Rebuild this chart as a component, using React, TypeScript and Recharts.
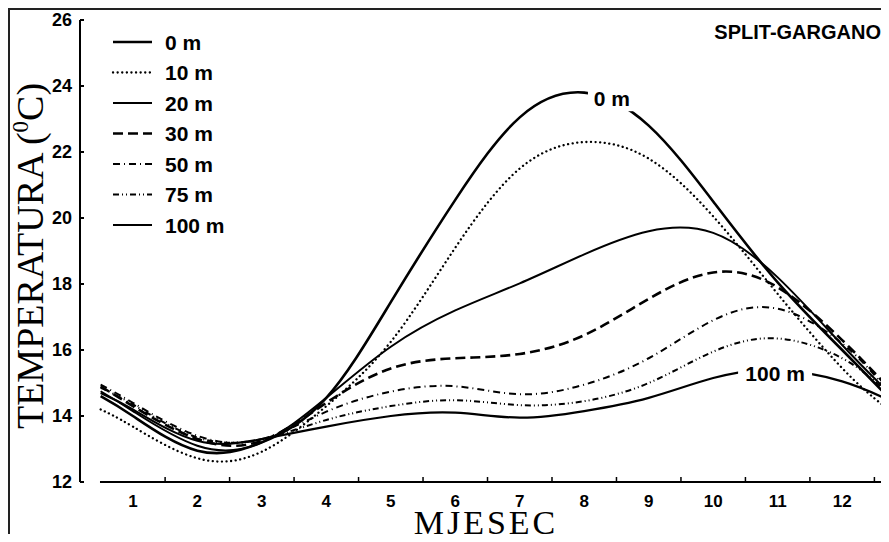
import { LineChart, Line, XAxis, YAxis, Legend, ReferenceLine, ReferenceDot } from "recharts";

// months along the x axis (first/last points are the curve ends)
const months = [0.5, 1, 2, 3, 4, 5, 6, 7, 8, 9, 10, 11, 12, 12.65];

// temperature (°C) per depth
const t0 = [14.6, 14.0, 12.95, 13.2, 14.55, 17.45, 20.55, 23.05, 23.8, 22.8, 20.5, 18.05, 16.0, 14.7];
const t10 = [14.2, 13.68, 12.72, 12.92, 14.3, 16.25, 19.1, 21.5, 22.3, 21.8, 20.05, 17.7, 15.45, 14.3];
const t20 = [14.75, 14.15, 13.1, 13.2, 14.55, 16.1, 17.2, 18.02, 18.9, 19.6, 19.55, 18.2, 16.15, 14.85];
const t30 = [14.9, 14.3, 13.3, 13.25, 14.4, 15.44, 15.75, 15.88, 16.45, 17.55, 18.35, 17.9, 16.3, 15.0];
const t50 = [14.95, 14.4, 13.4, 13.3, 14.13, 14.74, 14.9, 14.66, 14.95, 15.75, 16.9, 17.25, 16.2, 14.9];
const t75 = [14.85, 14.35, 13.35, 13.3, 13.88, 14.3, 14.48, 14.33, 14.45, 15.0, 15.95, 16.35, 15.75, 14.8];
const t100 = [14.7, 14.2, 13.25, 13.3, 13.68, 14.0, 14.1, 13.95, 14.15, 14.55, 15.15, 15.4, 15.05, 14.55];

const depths = ["0 m", "10 m", "20 m", "30 m", "50 m", "75 m", "100 m"];
const seriesKeys = ["d0", "d10", "d20", "d30", "d50", "d75", "d100"];
const temps = [t0, t10, t20, t30, t50, t75, t100];

const monthTicks = [1, 1.5, 2, 2.5, 3, 3.5, 4, 4.5, 5, 5.5, 6, 6.5, 7, 7.5, 8, 8.5, 9, 9.5, 10, 10.5, 11, 11.5, 12, 12.5];
const tempTicks = [12, 14, 16, 18, 20, 22, 24, 26];

// where the "0 m" and "100 m" labels sit on their curves
const label0 = { month: 8.43, temp: 23.63 };
const label100 = { month: 10.96, temp: 15.3 };

const SANS = '"Liberation Sans", Arial, sans-serif';
const SERIF = '"Liberation Serif", "Times New Roman", serif';

// no scrollbars eating into the right edge
document.documentElement.style.overflow = "hidden";
document.body.style.overflow = "hidden";

const lineStyles: { width: number; dash?: string; cap?: "round" | "butt" }[] = [
  { width: 2.6 },
  { width: 2.3, dash: "0.1 4.5", cap: "round" },
  { width: 2 },
  { width: 2.6, dash: "10 5" },
  { width: 2, dash: "7 4 1 4" },
  { width: 2, dash: "6 3 1 3 1 3" },
  { width: 2.2 },
];

const data = months.map((m, i) => {
  const row: Record<string, number> = { month: m };
  seriesKeys.forEach((k, s) => {
    row[k] = temps[s][i];
  });
  return row;
});

const MonthTick = (props: any) => {
  const { x, y, payload } = props;
  const v = payload.value;
  if (Number.isInteger(v)) {
    return (
      <text x={x} y={y + 25} textAnchor="middle" fill="#000" fontSize={17} fontWeight={700} fontFamily={SANS}>
        {v}
      </text>
    );
  }
  return <line x1={x} x2={x} y1={y} y2={y - 5} stroke="#000" strokeWidth={1.5} />;
};

const TempTick = (props: any) => {
  const { x, y, payload } = props;
  return (
    <g>
      <line x1={x + 8} x2={x + 12} y1={y} y2={y} stroke="#000" strokeWidth={2} />
      <text x={x} y={y} dy="0.355em" textAnchor="end" fill="#000" fontSize={18} fontWeight={700} fontFamily={SANS}>
        {payload.value}
      </text>
    </g>
  );
};

const inlineLabel = (text: string, w: number) => (props: any) => (
  <g>
    <rect x={props.cx - w / 2} y={props.cy - 13} width={w} height={26} fill="#fff" />
    <text x={props.cx} y={props.cy + 7.5} textAnchor="middle" fill="#000" fontSize={21} fontWeight={700} fontFamily={SANS}>
      {text}
    </text>
  </g>
);

const renderLegend = () => (
  <svg width={130} height={220}>
    {depths.map((d, i) => {
      const st = lineStyles[i];
      const y = 15 + i * 30.5;
      return (
        <g key={d}>
          <line x1={8} x2={47} y1={y} y2={y} stroke="#000" strokeWidth={st.width} strokeDasharray={st.dash} strokeLinecap={st.cap || "butt"} />
          <text x={60} y={y + 7.5} fill="#000" fontSize={21} fontWeight={700} fontFamily={SANS}>
            {d}
          </text>
        </g>
      );
    })}
  </svg>
);

const App = () => {
  return (
    <div
      style={{
        position: "relative",
        width: 879,
        height: 532,
        marginBottom: -8,
        borderTop: "2px solid #222",
        borderLeft: "2px solid #222",
        background: "#fff",
        overflow: "hidden",
      }}
    >
      <LineChart width={879} height={532} data={data} margin={{ top: 10, right: 3, left: 0, bottom: 0 }}>
        <XAxis
          dataKey="month"
          type="number"
          domain={[0.18, 12.68]}
          ticks={monthTicks}
          interval={0}
          tick={<MonthTick />}
          tickLine={false}
          axisLine={false}
          tickSize={0}
          tickMargin={0}
          height={60}
          label={{
            content: () => (
              <text x={476} y={524} textAnchor="middle" fill="#000" fontSize={34} letterSpacing={3} fontFamily={SERIF}>
                MJESEC
              </text>
            ),
          }}
        />
        <YAxis
          type="number"
          domain={[12, 26]}
          ticks={tempTicks}
          interval={0}
          width={70}
          tickLine={false}
          tickSize={0}
          tickMargin={8}
          axisLine={{ stroke: "#000", strokeWidth: 2 }}
          tick={<TempTick />}
          label={{
            content: () => (
              <text transform="translate(33,246) rotate(-90)" textAnchor="middle" fill="#000" fontSize={38} fontFamily={SERIF}>
                TEMPERATURA (
                <tspan dy={-15} fontSize={23}>
                  0
                </tspan>
                <tspan dy={15}>C)</tspan>
              </text>
            ),
          }}
        />
        <ReferenceLine
          segment={[
            { x: 0.49, y: 12 },
            { x: 12.68, y: 12 },
          ]}
          stroke="#000"
          strokeWidth={2}
          ifOverflow="visible"
        />
        <Legend
          layout="vertical"
          align="center"
          verticalAlign="middle"
          content={renderLegend}
          wrapperStyle={{ left: 95, top: 17, width: 130, height: 220 }}
        />
        {seriesKeys.map((k, i) => (
          <Line
            key={k}
            dataKey={k}
            name={depths[i]}
            type="natural"
            stroke="#000"
            strokeWidth={lineStyles[i].width}
            strokeDasharray={lineStyles[i].dash}
            strokeLinecap={lineStyles[i].cap || "butt"}
            dot={false}
            activeDot={false}
            isAnimationActive={false}
          />
        ))}
        <ReferenceDot x={label0.month} y={label0.temp} r={0} shape={inlineLabel("0 m", 48)} ifOverflow="visible" />
        <ReferenceDot x={label100.month} y={label100.temp} r={0} shape={inlineLabel("100 m", 74)} ifOverflow="visible" />
      </LineChart>
      <div
        style={{
          position: "absolute",
          right: 8,
          top: 12,
          fontFamily: SANS,
          fontWeight: 700,
          fontSize: 20,
          lineHeight: "21px",
          color: "#000",
          whiteSpace: "nowrap",
        }}
      >
        SPLIT-GARGANO
      </div>
    </div>
  );
};

export default App;
